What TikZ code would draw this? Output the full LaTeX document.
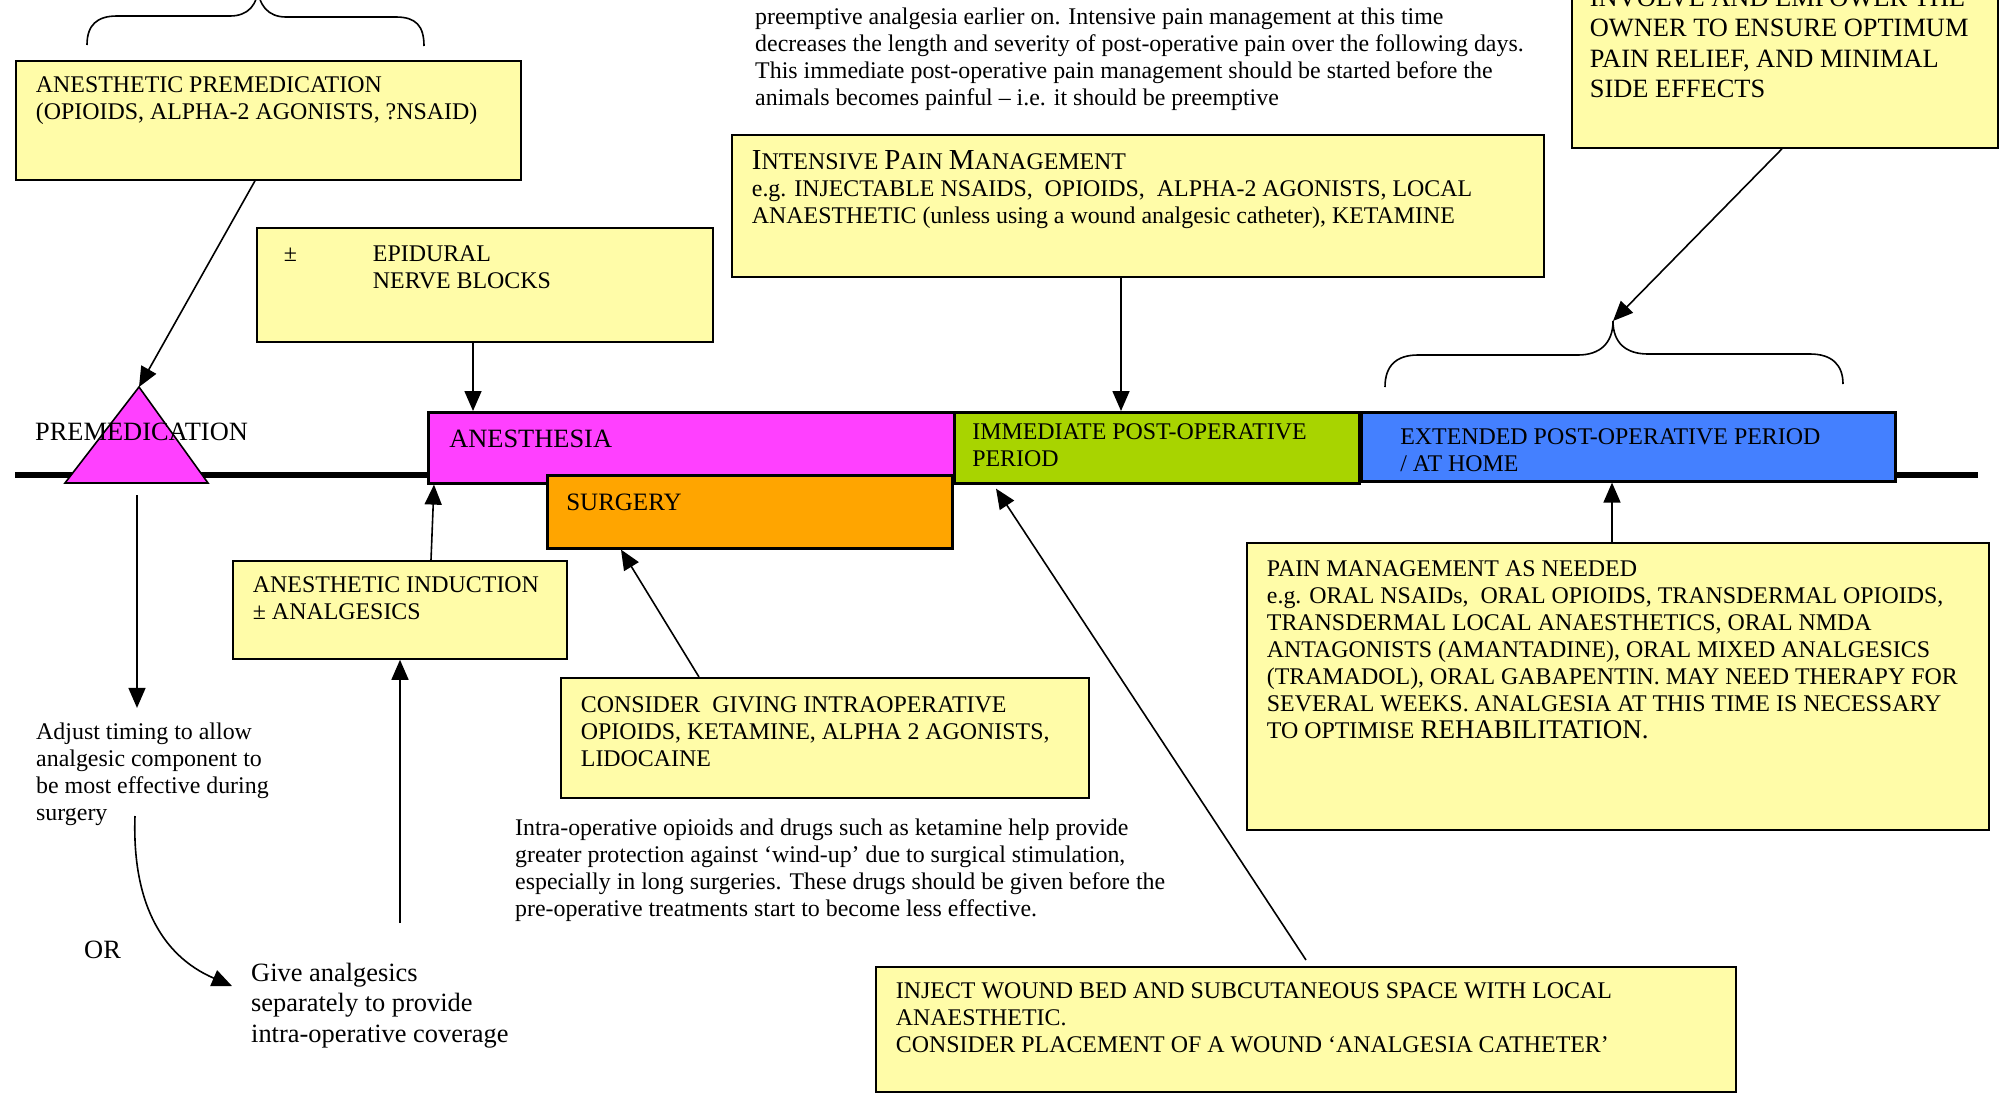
\documentclass[tikz,border=0pt]{standalone}
\usepackage{fontspec}
\setmainfont{Liberation Serif}
\usetikzlibrary{arrows.meta}

\definecolor{boxyellow}{HTML}{FFFCA8}
\definecolor{anesmagenta}{HTML}{FF40FF}
\definecolor{surgorange}{HTML}{FFA500}
\definecolor{postgreen}{HTML}{A8D400}
\definecolor{homeblue}{HTML}{4480FF}

\newcommand{\txt}{\fontsize{23.9pt}{27pt}\selectfont}
\newcommand{\txtmid}{\fontsize{25pt}{29pt}\selectfont}
\newcommand{\txtbig}{\fontsize{26.4pt}{30.5pt}\selectfont}
\newcommand{\capbig}[1]{{\fontsize{29pt}{27pt}\selectfont #1}}
\newcommand{\lns}[1]{\begin{tabular}[t]{@{}l@{}}#1\end{tabular}}
\newcommand{\boxpar}[4][14pt]{\parbox[c][#3][t]{#2}{\vspace*{#1}\noindent\lns{#4}}}

\tikzset{
  infobox/.style={draw, line width=1.8pt, fill=boxyellow, anchor=north west,
    inner xsep=20pt, inner ysep=0pt, font=\txt},
  phasebox/.style={draw, line width=2.6pt, anchor=north west,
    inner xsep=20pt, inner ysep=0pt, font=\txt},
  note/.style={anchor=base west, inner sep=0pt, font=\txt},
  arr/.style={-{Triangle[length=20pt, width=17pt]}, line width=1.6pt},
  brace/.style={line width=1.6pt}
}

\begin{document}
\begin{tikzpicture}[x=1pt, y=-1pt]
  \useasboundingbox (0,0) rectangle (2000,1096);
  \clip (0,0) rectangle (2000,1096);

  % time line
  \draw[line width=6pt] (15,475) -- (1978,475);

  % premedication triangle
  \coordinate (apex) at (139,387);
  \coordinate (belowtri) at (137,495);
  \draw[line width=1.6pt, fill=anesmagenta] (65,483) -- (apex) -- (208,483) -- cycle;
  \node[note, font=\txtbig] (premlabel) at (35,440) {PREMEDICATION};

  % phases
  \node[phasebox, fill=anesmagenta, inner xsep=21pt, font=\txtbig] (anes) at (427,411)
    {\boxpar[14pt]{484pt}{71pt}{ANESTHESIA}};
  \node[phasebox, fill=surgorange, inner xsep=19pt, font=\txtmid] (surg) at (546,474)
    {\boxpar[15pt]{367pt}{73pt}{SURGERY}};
  \node[phasebox, fill=postgreen, inner xsep=18pt] (immed) at (953,411)
    {\boxpar[8pt]{369pt}{71pt}{IMMEDIATE POST-OPERATIVE\\PERIOD}};
  \node[phasebox, fill=homeblue, inner xsep=39pt] (home) at (1360,411)
    {\boxpar[13pt]{456pt}{69pt}{EXTENDED POST-OPERATIVE PERIOD\\/ AT HOME}};

  % boxes above the line
  \node[infobox] (premed) at (15,60)
    {\boxpar[13pt]{465pt}{119pt}{ANESTHETIC PREMEDICATION\\(OPIOIDS, ALPHA-2 AGONISTS, ?NSAID)}};
  \node[infobox, inner xsep=27pt] (epid) at (256,227)
    {\boxpar[15pt]{402pt}{114pt}{\makebox[89pt][l]{±}EPIDURAL\\\hspace*{89pt}NERVE BLOCKS}};
  \node[infobox] (intens) at (731,134)
    {\boxpar[16pt]{772pt}{142pt}{\capbig{I}NTENSIVE \capbig{P}AIN \capbig{M}ANAGEMENT\\
      e.g. INJECTABLE NSAIDS,\ \ OPIOIDS,\ \ ALPHA-2 AGONISTS, LOCAL\\
      ANAESTHETIC (unless using a wound analgesic catheter), KETAMINE}};
  \node[infobox, inner xsep=18pt, font=\txtbig] (owner) at (1571,-40)
    {\boxpar[24pt]{390pt}{187pt}{INVOLVE AND EMPOWER THE\\OWNER TO ENSURE OPTIMUM\\PAIN RELIEF, AND MINIMAL\\SIDE EFFECTS}};
  \node[note] (toptext) at (755,24)
    {\lns{preemptive analgesia earlier on. Intensive pain management at this time\\
      decreases the length and severity of post-operative pain over the following days.\\
      This immediate post-operative pain management should be started before the\\
      animals becomes painful – i.e. it should be preemptive}};

  % braces
  \draw[brace] (87,45) .. controls (87,25) and (97,16) .. (117,16) -- (230,16)
    .. controls (248,16) and (258,5) .. (258,-14)
    .. controls (258,5) and (268,17) .. (286,17) -- (396,17)
    .. controls (416,17) and (424,26) .. (424,46);
  \coordinate (bracetip) at (1613,321);
  \draw[brace] (1385,387) .. controls (1385,366) and (1396,355) .. (1418,355) -- (1578,355)
    .. controls (1600,355) and (1613,343) .. (bracetip)
    .. controls (1613,343) and (1626,354) .. (1648,354) -- (1810,354)
    .. controls (1832,354) and (1843,365) .. (1843,384);

  % boxes below the line
  \node[infobox] (induc) at (232,560)
    {\boxpar[13pt]{294pt}{98pt}{ANESTHETIC INDUCTION\\± ANALGESICS}};
  \node[infobox] (consid) at (560,677)
    {\boxpar[16pt]{488pt}{120pt}{CONSIDER\ \ GIVING INTRAOPERATIVE\\OPIOIDS, KETAMINE, ALPHA 2 AGONISTS,\\LIDOCAINE}};
  \node[infobox] (asneeded) at (1246,542)
    {\boxpar[15pt]{702pt}{287pt}{PAIN MANAGEMENT AS NEEDED\\
      e.g. ORAL NSAIDs,\ \ ORAL OPIOIDS, TRANSDERMAL OPIOIDS,\\
      TRANSDERMAL LOCAL ANAESTHETICS, ORAL NMDA\\
      ANTAGONISTS (AMANTADINE), ORAL MIXED ANALGESICS\\
      (TRAMADOL), ORAL GABAPENTIN. MAY NEED THERAPY FOR\\
      SEVERAL WEEKS. ANALGESIA AT THIS TIME IS NECESSARY\\
      TO OPTIMISE {\fontsize{27pt}{27pt}\selectfont REHABILITATION.}}};
  \node[infobox] (inject) at (875,966)
    {\boxpar[13pt]{820pt}{125pt}{INJECT WOUND BED AND SUBCUTANEOUS SPACE WITH LOCAL\\
      ANAESTHETIC.\\CONSIDER PLACEMENT OF A WOUND ‘ANALGESIA CATHETER’}};

  % free texts
  \node[note] (adjust) at (36,739)
    {\lns{Adjust timing to allow\\analgesic component to\\be most effective during\\surgery}};
  \node[note, font=\txtbig] (orlabel) at (84,958) {OR};
  \node[note, font=\txtbig] (give) at (251,981)
    {\lns{Give analgesics\\separately to provide\\intra-operative coverage}};
  \node[note] (intratext) at (515,835)
    {\lns{Intra-operative opioids and drugs such as ketamine help provide\\
      greater protection against ‘wind-up’ due to surgical stimulation,\\
      especially in long surgeries. These drugs should be given before the\\
      pre-operative treatments start to become less effective.}};

  % connectors
  \coordinate (orstart) at (135,816);
  \coordinate (orend) at (232,986);
  \coordinate (upstart) at (400,923);
  \draw[arr] ([xshift=240pt]premed.south west) -- (apex);
  \draw[arr] ([xshift=217pt]epid.south west) -- ([xshift=217pt]epid.south west |- anes.north);
  \draw[arr] ([xshift=390pt]intens.south west) -- ([xshift=390pt]intens.south west |- immed.north);
  \draw[arr] ([xshift=211pt]owner.south west) -- (bracetip);
  \draw[arr] ([xshift=366pt]asneeded.north west) -- ([xshift=366pt]asneeded.north west |- home.south);
  \draw[arr] ([xshift=199pt]induc.north west) -- ([xshift=202pt]induc.north west |- anes.south);
  \draw[arr] (upstart) -- (upstart |- induc.south);
  \draw[arr] (belowtri) -- ([yshift=12pt]belowtri |- adjust.north);
  \draw[arr] (orstart) .. controls (132,900) and (160,955) .. (orend);
  \draw[arr] ([xshift=139pt]consid.north west) -- ([xshift=75pt]surg.south west);
  \draw[arr] ([xshift=431pt, yshift=6pt]inject.north west) -- ([xshift=43pt, yshift=-4pt]immed.south west);
\end{tikzpicture}
\end{document}
